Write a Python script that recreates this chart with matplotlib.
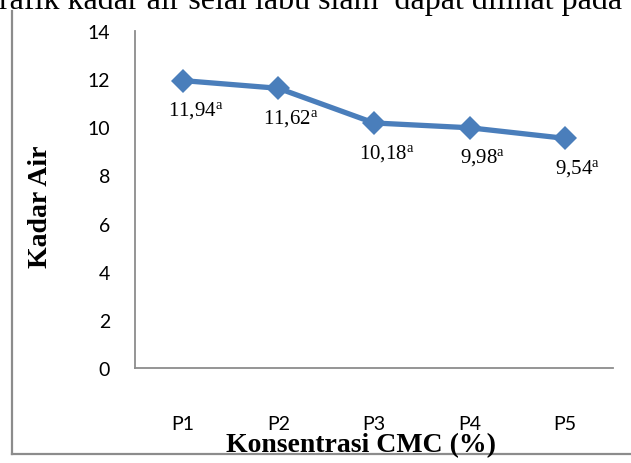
import numpy as np
import matplotlib
matplotlib.use("Agg")
import matplotlib.pyplot as plt
from matplotlib.lines import Line2D

# Kadar air selai labu siam per perlakuan CMC
perlakuan = ["P1", "P2", "P3", "P4", "P5"]
kadar_air = [11.94, 11.62, 10.18, 9.98, 9.54]
notasi = ["a", "a", "a", "a", "a"]

yticks = [0, 2, 4, 6, 8, 10, 12, 14]

plt.rcParams['mathtext.fontset'] = 'custom'
plt.rcParams['mathtext.rm'] = 'Liberation Serif'

Biru = '#4A7EBB'
Abu = '#8C8C8C'

fig = plt.figure(figsize=(6.31, 4.64), dpi=100)
ax = fig.add_axes([135/631, 1-369/464, (613-135)/631, (369-32)/464])

x = np.arange(1, len(perlakuan)+1)
ax.plot(x, kadar_air, color=Biru, linewidth=3.8, marker='D', markersize=12.5,
        markeredgewidth=0, zorder=10, clip_on=False)

# label nilai di bawah titik
for xi, yi, n in zip(x, kadar_air, notasi):
    teks = ('%.2f' % yi).replace('.', '{,}')
    ax.annotate(r'$\mathrm{%s^{%s}}$' % (teks, n), (xi, yi), xytext=(9, -21),
                textcoords='offset points', ha='center', va='center',
                fontsize=15, color='black')

ax.set_xlim(0.5, 5.5)
ax.set_ylim(0, 14)
ax.set_yticks(yticks)
ax.set_xticks(x)
ax.set_xticklabels(perlakuan)
for lab in ax.get_xticklabels() + ax.get_yticklabels():
    lab.set_fontfamily('Lato')
    lab.set_fontsize(14)
ax.tick_params(axis='both', length=0)
ax.tick_params(axis='y', pad=18)
ax.tick_params(axis='x', pad=34)

for s in ['top', 'right']:
    ax.spines[s].set_visible(False)
for s in ['left', 'bottom']:
    ax.spines[s].set_color(Abu)
    ax.spines[s].set_linewidth(1.3)

ax.set_ylabel('Kadar Air', family='Liberation Serif', fontweight='bold',
              fontsize=20)
ax.yaxis.set_label_coords(-(135-53)/478, (369-207)/337)
ax.set_xlabel('Konsentrasi CMC (%)', family='Liberation Serif', fontweight='bold',
              fontsize=20)
ax.xaxis.set_label_coords((361-135)/478, -(433-369)/337)

# bingkai grafik
fig.add_artist(Line2D([12/631, 12/631], [1-12/464, 1-455/464], color=Abu,
                      linewidth=1.6, transform=fig.transFigure))
fig.add_artist(Line2D([12/631, 1.0], [1-455/464, 1-455/464], color=Abu,
                      linewidth=1.6, transform=fig.transFigure, zorder=0))

# kalimat teks di atas grafik
fig.text(622/631, 1-9/464, 'grafik kadar air selai labu siam  dapat dilihat pada',
         family='Liberation Serif', fontsize=23, ha='right', va='baseline')

fig.savefig('out.png', dpi=100)
